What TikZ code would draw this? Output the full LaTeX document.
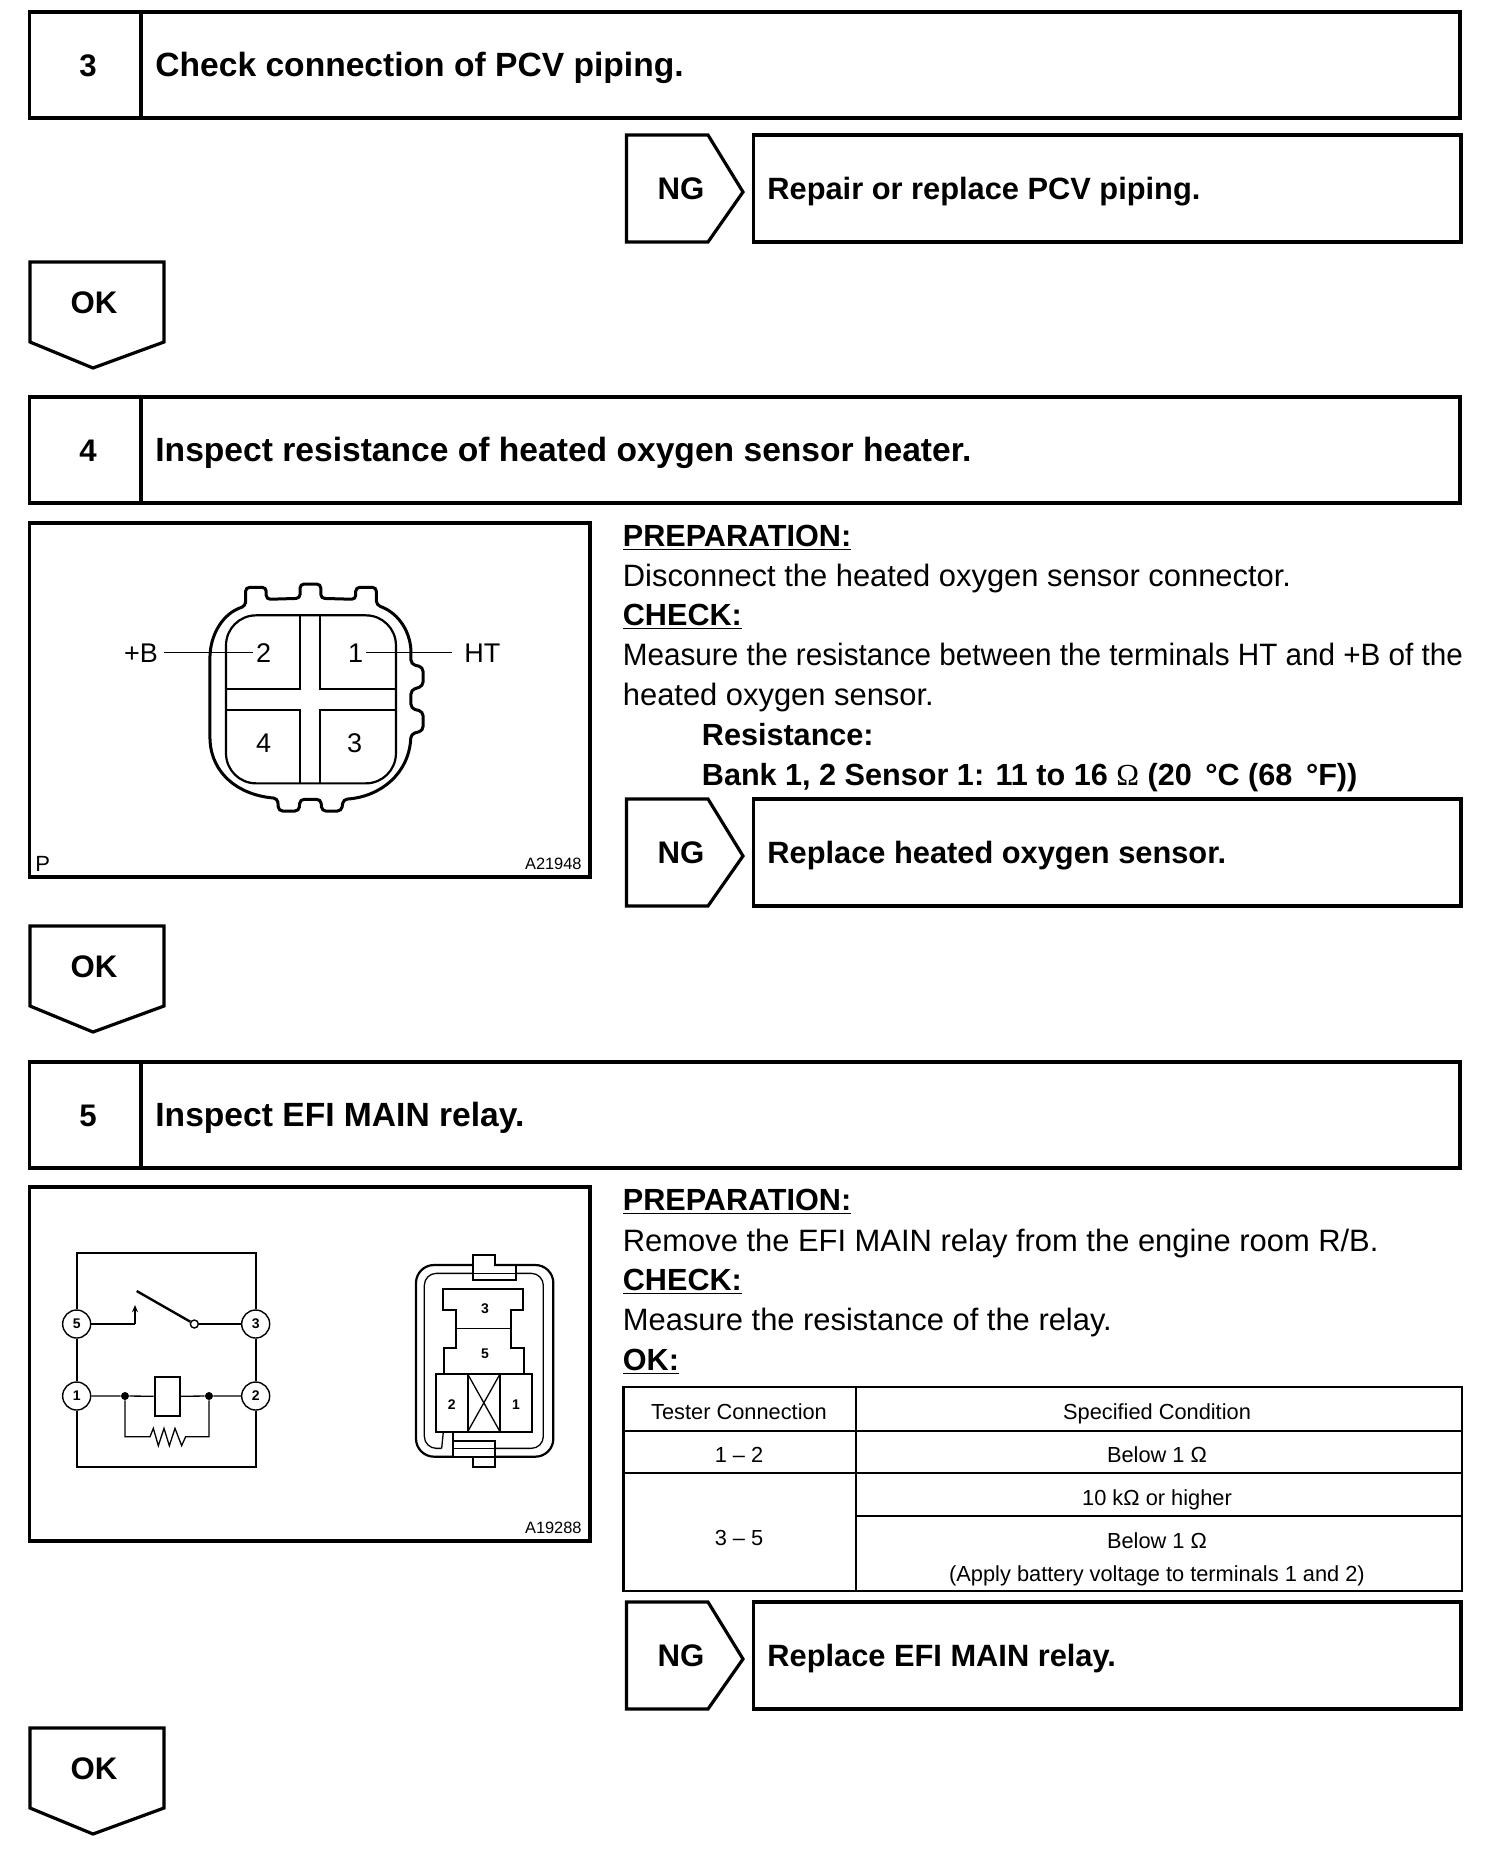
\documentclass[tikz,border=0pt]{standalone}
\usepackage{fontspec}
\setmainfont{Liberation Sans}
\newfontfamily\omegafont{Liberation Serif}
\usetikzlibrary{arrows.meta}
\newcommand{\ohm}{{\omegafont\mdseries Ω}}
\tikzset{
  frame/.style={draw=black,line width=1.6pt,line join=miter},
  mid/.style={draw=black,line width=1.2pt},
  thin wire/.style={draw=black,line width=0.65pt},
  wire/.style={draw=black,line width=1.1pt},
  headtxt/.style={font=\fontsize{16.8}{16.8}\selectfont\bfseries,anchor=base west,inner sep=0pt},
  acttxt/.style={font=\fontsize{15.4}{15.4}\selectfont\bfseries,anchor=base west,inner sep=0pt},
  headnum/.style={font=\fontsize{15.6}{15.6}\selectfont\bfseries,anchor=base,inner sep=0pt},
  bodytxt/.style={font=\fontsize{15.45}{15.45}\selectfont,anchor=base west,inner sep=0pt},
  boldtxt/.style={font=\fontsize{15.3}{15.3}\selectfont\bfseries,anchor=base west,inner sep=0pt},
  tabletxt/.style={font=\fontsize{10.9}{10.9}\selectfont,anchor=base,inner sep=0pt},
  pinlabel/.style={font=\fontsize{13.5}{13.5}\selectfont,anchor=base,inner sep=0pt,outer sep=1.5pt},
  figcode/.style={font=\fontsize{8.2}{8.2}\selectfont,anchor=base east,inner sep=0pt},
  figletter/.style={font=\fontsize{11}{11}\selectfont,anchor=base west,inner sep=0pt},
  tinybold/.style={font=\fontsize{7}{7}\selectfont\bfseries,inner sep=0pt},
  pincircle/.style={draw=black,line width=0.7pt,circle,minimum size=14pt,inner sep=0pt,font=\fontsize{7}{7}\selectfont\bfseries},
  joint/.style={circle,fill=black,minimum size=4pt,inner sep=0pt},
}
% \headerrow{y offset}{name}{number}{text}
\newcommand{\headerrow}[4]{%
  \draw[frame] (29.6,12+#1) rectangle (1460,118+#1);
  \draw[frame] (141,12+#1) -- (141,118+#1);
  \node[headnum] (#2num) at (88,76+#1) {#3};
  \node[headtxt] (#2txt) at (155,76+#1) {#4};
}
% \ngrow{y offset}{name}{text}
\newcommand{\ngrow}[3]{%
  \draw[frame] (626.5,135+#1) -- (708,135+#1) -- (743,192+#1) -- (708,242+#1) -- (626.5,242+#1) -- cycle;
  \draw[frame] (753.6,135+#1) rectangle (1461,242+#1);
  \node[headnum] (#2ng) at (681,199+#1) {NG};
  \node[acttxt] (#2act) at (767,199+#1) {#3};
}
% \okrow{y offset}{name}
\newcommand{\okrow}[2]{%
  \draw[frame] (30,262+#1) -- (164,262+#1) -- (164,342+#1) -- (93,368+#1) -- (30,342+#1) -- cycle;
  \node[headnum] (#2) at (94,313+#1) {OK};
}
\begin{document}
\begin{tikzpicture}[x=0.5pt,y=-0.5pt]
\useasboundingbox (0,0) rectangle (1504,1858);
\fill[white] (0,0) rectangle (1504,1858);

% Step 3
\headerrow{0}{sA}{3}{Check connection of PCV piping.}
\ngrow{0}{ngA}{Repair or replace PCV piping.}
\okrow{0}{okA}

% Step 4
\headerrow{385}{sB}{4}{Inspect resistance of heated oxygen sensor heater.}
\draw[frame] (29.6,523) rectangle (590,877);
\node[figletter] (figP) at (35,871) {P};
\node[figcode] (codeA) at (582,869) {A21948};
\begin{scope}[x=0.18797pt,y=-0.16667pt,shift={(10pt,-255pt)}]
  \draw[draw=black,line width=1.5pt,rounded corners=2pt]
    (600,288)--(600,232)--(655,232)--(655,268)--(745,265)--(745,222)--(800,222)--(800,265)--(893,268)--(893,232)--(948,232)--(948,285)
    .. controls (1010,310) and (1040,370) .. (1040,440)
    --(1040,462)--(1072,472)--(1072,528)--(1040,540)--(1040,595)--(1072,605)--(1072,662)--(1040,672)
    .. controls (1035,790) and (960,860) .. (860,868)
    --(855,903)--(803,903)--(800,868)--(745,868)--(742,903)--(688,903)--(685,865)
    .. controls (580,855) and (510,790) .. (505,680)
    --(505,440) .. controls (510,370) and (540,310) .. (600,288) -- cycle;
  \draw[wire,rounded corners=15pt] (548,316) rectangle (1000,820);
  \draw[wire] (745,316)--(745,538)--(548,538);
  \draw[wire] (798,316)--(798,538)--(1000,538);
  \draw[wire] (548,600)--(745,600)--(745,820);
  \draw[wire] (1000,600)--(798,600)--(798,820);
  \node[pinlabel] (pb) at (322,456) {+B};
  \node[pinlabel] (n2) at (648,456) {2};
  \node[pinlabel] (n1) at (893,456) {1};
  \node[pinlabel] (ht) at (1230,456) {HT};
  \node[pinlabel] (n4) at (648,728) {4};
  \node[pinlabel] (n3) at (890,728) {3};
  \coordinate (htend) at (1150,0);
  \coordinate (pbstart) at (383,0);
  \draw[thin wire] (pbstart |- n2.west) -- (n2.west);
  \draw[thin wire] (n1.east) -- (n1.east -| htend);
\end{scope}
\node[boldtxt] (tB1) at (622.5,546) {\underline{PREPARATION:}};
\node[bodytxt] (tB2) at (622.5,586) {Disconnect the heated oxygen sensor connector.};
\node[boldtxt] (tB3) at (622.5,625) {\underline{CHECK:}};
\node[bodytxt] (tB4) at (622.5,665) {\scalebox{0.96}[1]{Measure the resistance between the terminals HT and +B of the}};
\node[bodytxt] (tB5) at (622.5,705) {heated oxygen sensor.};
\node[boldtxt] (tB6) at (701.5,745) {Resistance:};
\node[boldtxt] (tB7) at (701.5,785) {Bank 1, 2 Sensor 1: 11 to 16 \ohm{} (20 \,°C (68 \,°F))};
\ngrow{664}{ngB}{Replace heated oxygen sensor.}
\okrow{664}{okB}

% Step 5
\headerrow{1050}{sC}{5}{Inspect EFI MAIN relay.}
\draw[frame] (29.6,1187) rectangle (590,1541);
\node[figcode] (codeB) at (582,1533) {A19288};
\begin{scope}[x=0.16667pt,y=-0.16667pt,shift={(10pt,-590pt)}]
  \node[pincircle] (c5) at (170,432) {5};
  \node[pincircle] (c3) at (707,432) {3};
  \node[pincircle] (c1) at (170,648) {1};
  \node[pincircle] (c2) at (707,648) {2};
  \draw[wire] (c5.north) -- (c5.north |- 0,220) -- (c3.north |- 0,220) -- (c3.north);
  \draw[wire] (c5) -- (c1);
  \draw[wire] (c3) -- (c2);
  \draw[wire] (c1.south) -- (c1.south |- 0,860) -- (c2.south |- 0,860) -- (c2.south);
  \coordinate (arrowfoot) at (345,432);
  \coordinate (arrowtip) at (345,375);
  \draw[thin wire] (c5) -- (arrowfoot);
  \draw[wire,-{Stealth[length=3.6pt,width=3pt]}] (arrowfoot) -- (arrowtip);
  \node[draw=black,line width=0.7pt,circle,minimum size=4pt,inner sep=0pt] (pivot) at (523,432) {};
  \coordinate (swtip) at (350,333);
  \draw[draw=black,line width=1.2pt] (pivot) -- (swtip);
  \draw[thin wire] (pivot) -- (c3);
  \node[draw=black,line width=1.1pt,minimum width=12.5pt,minimum height=19.5pt,inner sep=0pt] (coil) at (442,649) {};
  \node[joint] (j1) at (315,648) {};
  \node[joint] (j2) at (567,648) {};
  \draw[thin wire] (c1) -- (j1) -- (coil);
  \draw[thin wire] (coil) -- (j2) -- (c2);
  \draw[thin wire] (j1) -- (315,770) -- (390,770) -- (400,745) -- (415,797) -- (432,745) -- (448,797) -- (465,745) -- (485,797) -- (497,770) -- (567,770) -- (j2);
\end{scope}
\begin{scope}[x=0.16667pt,y=-0.16667pt,shift={(190pt,-615pt)}]
  \draw[wire,rounded corners=9pt] (218,680) -- (108,680) -- (108,105) -- (520,105) -- (520,680) -- (218,680);
  \draw[thin wire,rounded corners=6pt] (185,655) -- (133,655) -- (133,130) -- (490,130) -- (490,655) -- (220,655);
  \fill[white] (282,77) rectangle (343,148);
  \fill[white] (343,112) rectangle (406,148);
  \draw[wire] (345,105) -- (345,75) -- (280,75) -- (280,150) -- (408,150) -- (408,105);
  \draw[thin wire] (280,130) -- (408,130);
  \fill[white] (222,634) rectangle (343,678);
  \draw[wire] (220,632) -- (345,632) -- (345,712) -- (280,712) -- (280,680);
  \draw[thin wire] (220,655) -- (345,655);
  \draw[thin wire] (220,680) -- (345,680);
  \draw[wire] (192,432) -- (192,355) -- (228,355) -- (228,240) -- (190,240) -- (190,178) -- (430,178) -- (430,240) -- (392,240) -- (392,355) -- (432,355) -- (432,432);
  \draw[thin wire] (228,296) -- (392,296);
  \draw[wire] (167,432) rectangle (457,605);
  \draw[wire] (263,432) -- (263,605);
  \draw[wire] (360,432) -- (360,605);
  \draw[thin wire] (263,432) -- (360,605);
  \draw[thin wire] (360,432) -- (263,605);
  \draw[thin wire] (190,605) -- (185,655);
  \draw[wire] (218,605) -- (218,680);
  \node[tinybold] (r3) at (315,237) {3};
  \node[tinybold] (r5) at (315,370) {5};
  \node[tinybold] (r2) at (215,523) {2};
  \node[tinybold] (r1) at (408,523) {1};
\end{scope}
\node[boldtxt] (tC1) at (622.5,1210) {\underline{PREPARATION:}};
\node[bodytxt] (tC2) at (622.5,1251) {Remove the EFI MAIN relay from the engine room R/B.};
\node[boldtxt] (tC3) at (622.5,1290) {\underline{CHECK:}};
\node[bodytxt] (tC4) at (622.5,1330) {Measure the resistance of the relay.};
\node[boldtxt] (tC5) at (622.5,1370) {\underline{OK:}};

% Table
\draw[frame,line width=1.3pt] (623.7,1387) rectangle (1462,1591);
\draw[mid] (856,1387) -- (856,1591);
\draw[mid,line width=1.4pt] (623.7,1431) -- (1462,1431);
\draw[mid,line width=1.4pt] (623.7,1473) -- (1462,1473);
\draw[mid,line width=1.4pt] (856,1516) -- (1462,1516);
\node[tabletxt] (h1) at (739,1419) {Tester Connection};
\node[tabletxt] (h2) at (1157,1419) {Specified Condition};
\node[tabletxt] (a1) at (739,1462) {1 – 2};
\node[tabletxt] (b1) at (1157,1462) {Below 1 Ω};
\node[tabletxt] (b2) at (1157,1505) {10 kΩ or higher};
\node[tabletxt] (a2) at (739,1545) {3 – 5};
\node[tabletxt] (b3) at (1157,1548) {Below 1 Ω};
\node[tabletxt] (b4) at (1157,1581) {(Apply battery voltage to terminals 1 and 2)};

\ngrow{1467}{ngC}{Replace EFI MAIN relay.}
\okrow{1466}{okC}
\end{tikzpicture}
\end{document}
